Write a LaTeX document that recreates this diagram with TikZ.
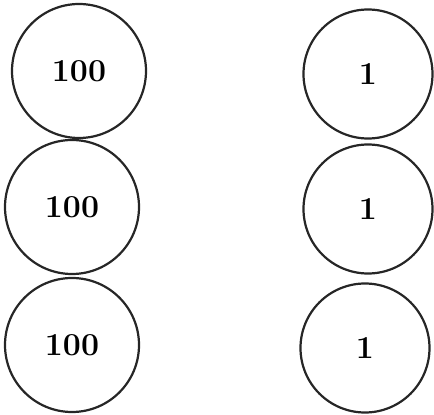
\documentclass[tikz,border=0pt]{standalone}
\begin{document}
\begin{tikzpicture}[x=1pt,y=1pt,
  ball/.style={circle,draw=black!85,line width=2.2pt,minimum size=134pt,inner sep=0pt,
    font=\fontsize{32}{36}\selectfont\bfseries}]
\useasboundingbox (0,0) rectangle (434,415);
\node[ball] (a1) at (79,344) {100};
\node[ball] (a2) at (72,208) {100};
\node[ball] (a3) at (72,70) {100};
\node[ball,minimum size=129pt] (b1) at (368,341) {1};
\node[ball,minimum size=129pt] (b2) at (368,206) {1};
\node[ball,minimum size=129pt] (b3) at (365,67) {1};
\end{tikzpicture}
\end{document}
